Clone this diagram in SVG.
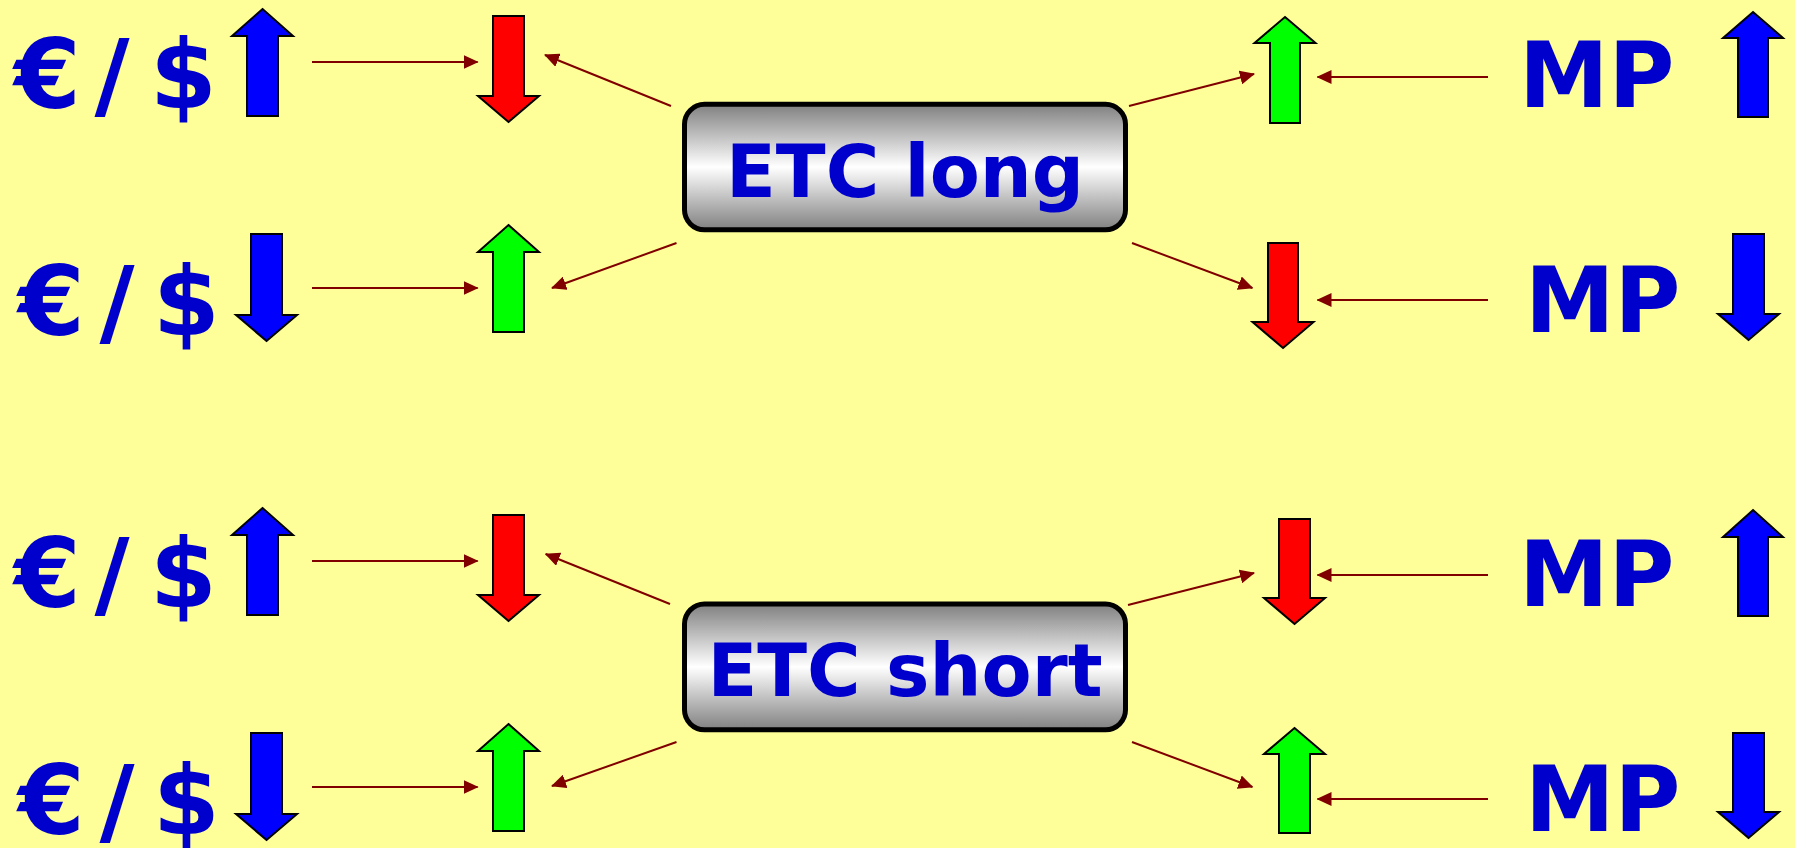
<svg xmlns="http://www.w3.org/2000/svg" width="1795" height="848" viewBox="0 0 1795 848">
<style>
.bg{fill:#FFFF99}
.lbl{font-family:"DejaVu Sans","Verdana",sans-serif;font-weight:bold;fill:#0000CC}
.cur{font-size:96px}
.mp{font-size:90px}
.etc{font-size:73px}
.box{fill:url(#metal);stroke:#000;stroke-width:5}
.arr{stroke:#000;stroke-width:2;stroke-linejoin:miter}
.blue{fill:#0000FF}
.red{fill:#FF0000}
.green{fill:#00FF00}
.con line{stroke:#800000;stroke-width:2;marker-end:url(#ah)}
</style>
<defs>
<linearGradient id="metal" x1="0" y1="0" x2="0" y2="1">
<stop offset="0" stop-color="#808080"/>
<stop offset="0.5" stop-color="#FFFFFF"/>
<stop offset="1" stop-color="#808080"/>
</linearGradient>
<marker id="ah" viewBox="0 0 15 14" refX="14" refY="7" markerWidth="15" markerHeight="14" markerUnits="userSpaceOnUse" orient="auto">
<path d="M0,0 L15,7 L0,14 z" fill="#800000"/>
</marker>
</defs>
<rect class="bg" x="0" y="0" width="1795" height="848"/>

<g id="connectors" class="con">
<line x1="312" y1="62" x2="477.6" y2="62"/>
<line x1="671" y1="106" x2="545" y2="55"/>
<line x1="312" y1="288" x2="477.6" y2="288"/>
<line x1="676.5" y1="243" x2="552" y2="288"/>
<line x1="1129" y1="106" x2="1254" y2="74"/>
<line x1="1488" y1="77" x2="1317.5" y2="77"/>
<line x1="1132" y1="243" x2="1252.4" y2="288"/>
<line x1="1488" y1="300" x2="1317.5" y2="300"/>
<line x1="312" y1="561" x2="477.6" y2="561"/>
<line x1="670" y1="604" x2="545.7" y2="554"/>
<line x1="312" y1="787" x2="477.6" y2="787"/>
<line x1="676.5" y1="742" x2="552" y2="786"/>
<line x1="1128" y1="605" x2="1254" y2="573"/>
<line x1="1488" y1="575" x2="1317.5" y2="575"/>
<line x1="1132" y1="742" x2="1252.4" y2="787"/>
<line x1="1488" y1="799" x2="1317.5" y2="799"/>
</g>

<g id="etc-long">
<rect class="box" x="684.5" y="104.3" width="441" height="125.5" rx="20"/>
<text class="lbl etc" x="905" y="197" text-anchor="middle">ETC long</text>
</g>
<g id="etc-short">
<rect class="box" x="684.5" y="604" width="441" height="125.8" rx="20"/>
<text class="lbl etc" x="905" y="696" text-anchor="middle">ETC short</text>
</g>

<g id="eur-usd-up-1">
<text class="lbl cur" x="14 94.5 150" y="108">€/$</text>
<polygon class="arr blue" points="262.5,9 293,36 278,36 278,116 247,116 247,36 232,36"/>
</g>
<g id="eur-usd-down-1">
<text class="lbl cur" x="18 99.5 153" y="335">€/$</text>
<polygon class="arr blue" points="266.5,341 297,315 282,315 282,234 251,234 251,315 236,315"/>
</g>
<g id="mid-red-down-1">
<polygon class="arr red" points="508.5,122 539,96 524,96 524,16 493,16 493,96 478,96"/>
</g>
<g id="mid-green-up-1">
<polygon class="arr green" points="508.5,225 539,252 524,252 524,332 493,332 493,252 478,252"/>
</g>
<g id="right-green-up-1">
<polygon class="arr green" points="1285,17 1315.5,43 1300,43 1300,123 1270,123 1270,43 1254.5,43"/>
</g>
<g id="right-red-down-1">
<polygon class="arr red" points="1283,348 1313.5,322 1298,322 1298,243 1268,243 1268,322 1252.5,322"/>
</g>
<g id="mp-up-1">
<text class="lbl mp" x="1519" y="107">MP</text>
<polygon class="arr blue" points="1753,12 1783,38 1768,38 1768,117 1738,117 1738,38 1723,38"/>
</g>
<g id="mp-down-1">
<text class="lbl mp" x="1525" y="332">MP</text>
<polygon class="arr blue" points="1748.5,340 1779,314 1764,314 1764,234 1733,234 1733,314 1718,314"/>
</g>

<g id="eur-usd-up-2">
<text class="lbl cur" x="14 94.5 150" y="607">€/$</text>
<polygon class="arr blue" points="262.5,508 293,535 278,535 278,615 247,615 247,535 232,535"/>
</g>
<g id="eur-usd-down-2">
<text class="lbl cur" x="18 99.5 153" y="834">€/$</text>
<polygon class="arr blue" points="266.5,840 297,814 282,814 282,733 251,733 251,814 236,814"/>
</g>
<g id="mid-red-down-2">
<polygon class="arr red" points="508.5,621 539,595 524,595 524,515 493,515 493,595 478,595"/>
</g>
<g id="mid-green-up-2">
<polygon class="arr green" points="508.5,724 539,751 524,751 524,831 493,831 493,751 478,751"/>
</g>
<g id="right-red-down-2">
<polygon class="arr red" points="1294.5,624 1325,598 1310,598 1310,519 1279,519 1279,598 1264,598"/>
</g>
<g id="right-green-up-2">
<polygon class="arr green" points="1294.5,728 1325,754 1310,754 1310,833 1279,833 1279,754 1264,754"/>
</g>
<g id="mp-up-2">
<text class="lbl mp" x="1519" y="606">MP</text>
<polygon class="arr blue" points="1753,510 1783,537 1768,537 1768,616 1738,616 1738,537 1723,537"/>
</g>
<g id="mp-down-2">
<text class="lbl mp" x="1525" y="831">MP</text>
<polygon class="arr blue" points="1748.5,838 1779,812 1764,812 1764,733 1733,733 1733,812 1718,812"/>
</g>
</svg>
